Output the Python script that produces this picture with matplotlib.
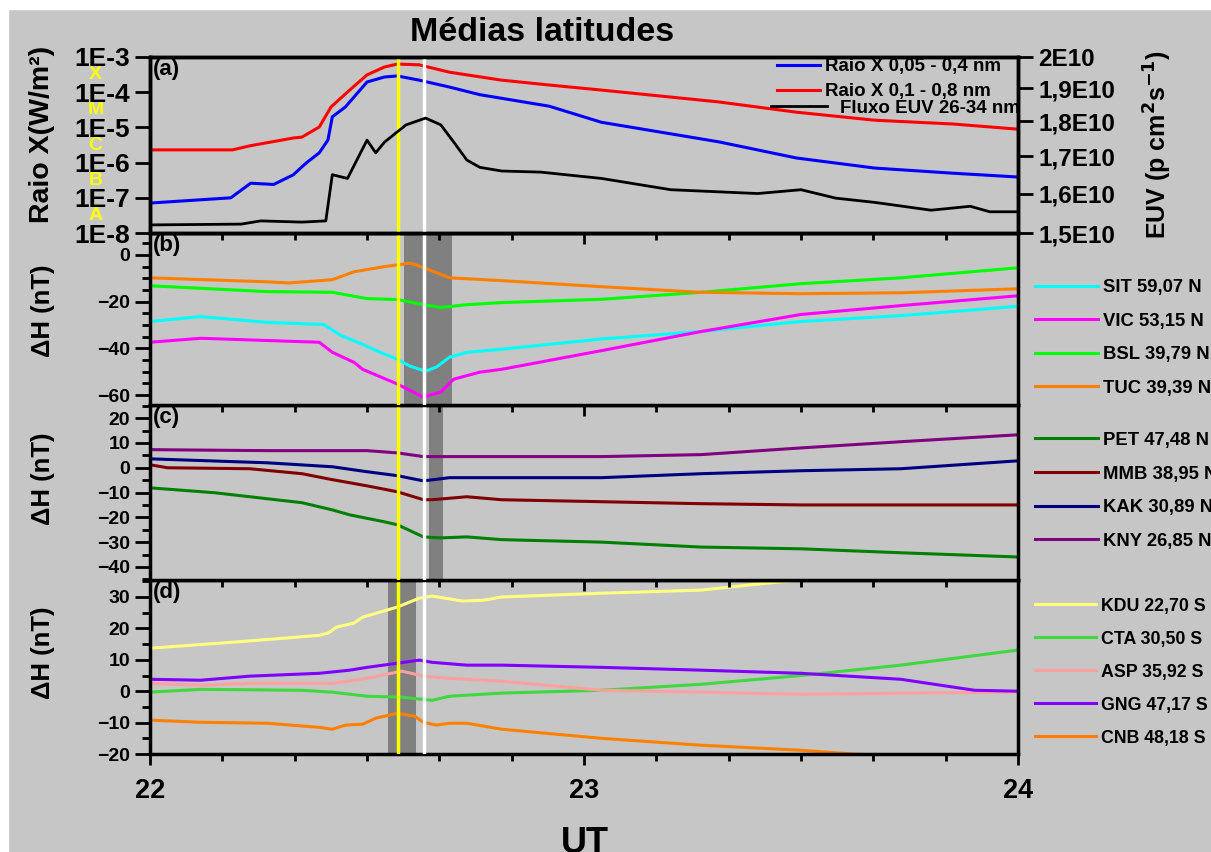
import matplotlib
matplotlib.use('Agg')
import matplotlib.pyplot as plt
from matplotlib.ticker import FixedLocator, MultipleLocator, NullLocator, FixedFormatter

plt.rcParams['font.family'] = ['Liberation Sans', 'DejaVu Sans']
plt.rcParams['font.weight'] = 'bold'

BG = '#c6c6c6'

# ---- panel (a): X-ray and EUV flux ----
t_red = [22.0, 22.19, 22.23, 22.33, 22.35, 22.39, 22.417, 22.46, 22.50, 22.54, 22.57,
         22.62, 22.69, 22.81, 22.92, 23.04, 23.31, 23.49, 23.67, 23.85, 24.0]
xr_long = [2.3e-6, 2.3e-6, 3.0e-6, 5.0e-6, 5.3e-6, 1.03e-5, 3.8e-5, 1.15e-4, 3.1e-4, 5.2e-4, 6.3e-4,
           6.0e-4, 3.7e-4, 2.2e-4, 1.6e-4, 1.15e-4, 5.3e-5, 2.7e-5, 1.6e-5, 1.25e-5, 8.9e-6]

t_blue = [22.0, 22.186, 22.232, 22.285, 22.33, 22.36, 22.39, 22.41, 22.42, 22.45, 22.47,
          22.50, 22.54, 22.57, 22.62, 22.69, 22.76, 22.92, 23.04, 23.31, 23.49, 23.67, 23.85, 24.0]
xr_short = [7.1e-8, 1.0e-7, 2.6e-7, 2.4e-7, 4.5e-7, 9.8e-7, 1.9e-6, 4.4e-6, 2.0e-5, 3.8e-5, 7.3e-5,
            1.95e-4, 2.7e-4, 2.9e-4, 2.2e-4, 1.4e-4, 8.5e-5, 4.0e-5, 1.4e-5, 3.9e-6, 1.35e-6, 7.0e-7, 5.0e-7, 3.9e-7]

t_euv = [22.0, 22.21, 22.255, 22.35, 22.405, 22.42, 22.455, 22.50, 22.52, 22.54, 22.57, 22.59,
         22.635, 22.67, 22.70, 22.73, 22.76, 22.81, 22.90, 23.04, 23.2, 23.4, 23.5, 23.58,
         23.67, 23.8, 23.89, 23.935, 24.0]
euv = [1.52e10, 1.522e10, 1.53e10, 1.527e10, 1.53e10, 1.65e10, 1.64e10, 1.746e10, 1.71e10, 1.74e10,
       1.77e10, 1.79e10, 1.81e10, 1.79e10, 1.74e10, 1.69e10, 1.67e10, 1.66e10, 1.657e10, 1.64e10,
       1.61e10, 1.60e10, 1.61e10, 1.588e10, 1.577e10, 1.557e10, 1.567e10, 1.553e10, 1.553e10]

# ---- panel (b) ----
t_tuc = [22.0, 22.27, 22.32, 22.42, 22.47, 22.54, 22.60, 22.62, 22.69, 22.81, 23.04, 23.27, 23.50, 23.73, 24.0]
tuc = [-9.8, -11.5, -12.0, -10.6, -7.2, -5.0, -3.5, -4.7, -9.8, -11.0, -13.6, -16.0, -16.6, -16.2, -14.5]
t_bsl = [22.0, 22.27, 22.42, 22.50, 22.57, 22.63, 22.67, 22.73, 22.81, 23.04, 23.27, 23.50, 23.73, 24.0]
bsl = [-13.2, -15.7, -16.0, -18.7, -19.1, -21.3, -22.5, -21.3, -20.4, -19.0, -16.0, -12.3, -9.8, -5.5]
t_sit = [22.0, 22.117, 22.27, 22.40, 22.44, 22.49, 22.53, 22.57, 22.60, 22.635, 22.66, 22.69, 22.73,
         22.81, 23.04, 23.27, 23.50, 23.73, 24.0]
sit = [-28.5, -26.4, -28.9, -29.8, -34.5, -38.3, -41.7, -44.7, -47.7, -49.8, -48.0, -43.8, -41.7,
       -40.4, -36.0, -32.8, -28.5, -26.0, -22.0]
t_vic = [22.0, 22.117, 22.39, 22.42, 22.47, 22.49, 22.57, 22.63, 22.67, 22.70, 22.76, 22.81,
         23.04, 23.27, 23.50, 23.73, 24.0]
vic = [-37.4, -35.7, -37.4, -41.7, -46.0, -49.0, -55.3, -60.9, -58.7, -53.2, -50.2, -49.0,
       -41.0, -32.8, -25.5, -21.7, -17.5]

# ---- panel (c) ----
t_kny = [22.0, 22.27, 22.50, 22.57, 22.63, 22.81, 23.04, 23.27, 23.50, 23.73, 24.0]
kny = [7.3, 6.9, 6.9, 6.0, 4.5, 4.5, 4.5, 5.3, 8.0, 10.5, 13.3]
t_kak = [22.0, 22.27, 22.42, 22.50, 22.57, 22.63, 22.69, 22.81, 23.04, 23.27, 23.50, 23.73, 24.0]
kak = [3.6, 2.0, 0.4, -1.6, -3.2, -5.3, -4.0, -4.0, -4.0, -2.4, -1.2, -0.4, 2.8]
t_mmb = [22.0, 22.04, 22.23, 22.35, 22.42, 22.50, 22.57, 22.63, 22.65, 22.73, 22.81, 23.04, 23.27,
         23.50, 23.73, 24.0]
mmb = [1.2, 0.0, -0.4, -2.4, -4.8, -7.3, -9.7, -12.9, -12.9, -11.7, -12.9, -13.7, -14.5, -15.0,
       -15.0, -15.0]
t_pet = [22.0, 22.15, 22.19, 22.35, 22.42, 22.46, 22.54, 22.57, 22.63, 22.67, 22.73, 22.81,
         23.04, 23.27, 23.50, 23.73, 24.0]
pet = [-8.1, -10.1, -10.9, -14.1, -17.0, -19.0, -21.8, -23.0, -27.9, -28.3, -27.9, -29.0,
       -30.0, -32.0, -32.7, -34.3, -36.0]

# ---- panel (d) ----
t_kdu = [22.0, 22.19, 22.31, 22.39, 22.41, 22.43, 22.47, 22.49, 22.52, 22.57, 22.62, 22.65,
         22.72, 22.77, 22.81, 23.04, 23.27, 23.38, 23.45, 23.7, 24.0]
kdu = [13.7, 15.6, 16.9, 17.8, 18.5, 20.4, 21.7, 23.6, 24.8, 26.8, 29.6, 30.3, 28.7, 29.0, 30.0,
       31.2, 32.2, 33.8, 34.8, 37.0, 39.0]
t_cta = [22.0, 22.117, 22.35, 22.42, 22.50, 22.58, 22.65, 22.69, 22.81, 23.04, 23.27, 23.50, 23.73, 24.0]
cta = [-0.3, 0.6, 0.3, -0.3, -1.6, -1.9, -2.9, -1.6, -0.6, 0.3, 2.2, 5.0, 8.3, 13.1]
t_asp = [22.0, 22.117, 22.23, 22.42, 22.50, 22.58, 22.63, 22.69, 22.81, 23.04, 23.27, 23.50, 23.73, 24.0]
asp = [2.5, 1.9, 2.5, 2.5, 4.1, 6.4, 4.8, 4.1, 3.2, 0.3, -0.3, -1.0, -0.6, -0.3]
t_gng = [22.0, 22.117, 22.23, 22.39, 22.46, 22.50, 22.57, 22.62, 22.65, 22.73, 22.81, 23.04,
         23.27, 23.50, 23.73, 23.9, 24.0]
gng = [3.8, 3.5, 4.8, 5.7, 6.7, 7.6, 8.9, 9.9, 9.2, 8.3, 8.3, 7.6, 6.7, 5.7, 3.8, 0.3, 0.0]
t_cnb = [22.0, 22.117, 22.27, 22.39, 22.42, 22.45, 22.49, 22.52, 22.57, 22.61, 22.63, 22.66,
         22.69, 22.73, 22.81, 23.04, 23.27, 23.50, 23.62, 24.0]
cnb = [-9.2, -9.9, -10.2, -11.5, -12.1, -10.8, -10.5, -8.6, -7.0, -8.0, -9.9, -10.8, -10.2,
       -10.2, -12.1, -15.0, -17.2, -18.8, -20.0, -22.0]

t_yellow = 22.571
t_white = 22.631
bands = [None, (22.585, 22.695), (22.642, 22.674), (22.548, 22.614)]

fig = plt.figure(figsize=(12.11, 8.52), dpi=100, facecolor=BG)
L, R = 0.1239, 0.8406
edges = [0.9331, 0.7265, 0.5246, 0.3192, 0.115]
axes = []
for i in range(4):
    ax = fig.add_axes([L, edges[i + 1], R - L, edges[i] - edges[i + 1]],
                      sharex=axes[0] if axes else None)
    ax.set_zorder(10 - 2 * i)  # upper panel's bottom ticks drawn over the next panel
    ax.set_facecolor(BG)
    for s in ax.spines.values():
        s.set_linewidth(2.5)
    ax.tick_params(axis='y', which='major', direction='out', length=11, width=2, labelsize=14)
    ax.tick_params(axis='y', which='minor', direction='out', length=5.5, width=2)
    ax.tick_params(axis='x', which='major', direction='out', length=8, width=2)
    ax.tick_params(axis='x', which='minor', direction='out', length=5, width=2)
    axes.append(ax)

axa, axb, axc, axd = axes

# panel a
axa.semilogy(t_blue, xr_short, color='#0000ff', lw=2.2, label='Raio X 0,05 - 0,4 nm')
axa.semilogy(t_red, xr_long, color='#ff0000', lw=2.2, label='Raio X 0,1 - 0,8 nm')
axa.set_ylim(1e-8, 1e-3)
axa.yaxis.set_major_locator(FixedLocator([1e-8, 1e-7, 1e-6, 1e-5, 1e-4, 1e-3]))
axa.yaxis.set_major_formatter(FixedFormatter(['1E-8', '1E-7', '1E-6', '1E-5', '1E-4', '1E-3']))
axa.yaxis.set_minor_locator(NullLocator())
axa.tick_params(axis='y', labelsize=19)
axa.set_ylabel('Raio X(W/m²)', fontsize=20.5, fontweight='bold')
for lab, v in zip(['A', 'B', 'C', 'M', 'X'], [10**-7.5, 10**-6.5, 10**-5.5, 10**-4.5, 10**-3.5]):
    axa.text(-0.063, v, lab, color='#ffff00', fontsize=14, fontweight='bold',
             transform=axa.get_yaxis_transform(), ha='center', va='center', zorder=0)

axr = axa.twinx()
axr.set_zorder(axa.get_zorder() + 1)
axr.semilogy(t_euv, euv, color='black', lw=2, label='Fluxo EUV 26-34 nm')
axr.set_ylim(1.5e10, 2e10)
axr.yaxis.set_major_locator(FixedLocator([1.5e10, 1.6e10, 1.7e10, 1.8e10, 1.9e10, 2e10]))
axr.yaxis.set_major_formatter(FixedFormatter(['1,5E10', '1,6E10', '1,7E10', '1,8E10', '1,9E10', '2E10']))
axr.yaxis.set_minor_locator(NullLocator())
axr.tick_params(axis='y', which='major', direction='out', length=11, width=2, labelsize=17.5)
for s in axr.spines.values():
    s.set_linewidth(2.5)
axr.set_ylabel('EUV (p cm$^{\\mathbf{2}}$s$^{\\mathbf{-1}}$)', fontsize=18, fontweight='bold')
axr.yaxis.set_label_coords(1.143, 0.5)

axa.legend(loc='upper left', bbox_to_anchor=(777 / 1211, 1 - 58 / 852),
           bbox_transform=fig.transFigure, frameon=False, borderpad=0, borderaxespad=0,
           prop={'size': 13.5, 'weight': 'bold'}, handlelength=2.3, labelspacing=0.42,
           handletextpad=0.25)
axr.legend(loc='center left', bbox_to_anchor=(771 / 1211, 1 - 108 / 852),
           bbox_transform=fig.transFigure, frameon=False, borderpad=0, borderaxespad=0,
           prop={'size': 13.5, 'weight': 'bold'}, handlelength=3.0, handletextpad=0.7)

# panel b
axb.plot(t_sit, sit, color='#00ffff', lw=2.2, label='SIT 59,07 N')
axb.plot(t_vic, vic, color='#ff00ff', lw=2.2, label='VIC 53,15 N')
axb.plot(t_bsl, bsl, color='#00ff00', lw=2.2, label='BSL 39,79 N')
axb.plot(t_tuc, tuc, color='#ff8000', lw=2.2, label='TUC 39,39 N')
axb.set_ylim(-64.3, 9.4)
axb.yaxis.set_major_locator(MultipleLocator(20))
axb.yaxis.set_minor_locator(MultipleLocator(5))

# panel c
axc.plot(t_pet, pet, color='#008000', lw=2.2, label='PET 47,48 N')
axc.plot(t_mmb, mmb, color='#800000', lw=2.2, label='MMB 38,95 N')
axc.plot(t_kak, kak, color='#000080', lw=2.2, label='KAK 30,89 N')
axc.plot(t_kny, kny, color='#800080', lw=2.2, label='KNY 26,85 N')
axc.set_ylim(-45.3, 25.3)
axc.yaxis.set_major_locator(MultipleLocator(10))
axc.yaxis.set_minor_locator(MultipleLocator(5))

# panel d
axd.plot(t_kdu, kdu, color='#ffff80', lw=2.2, label='KDU 22,70 S')
axd.plot(t_cta, cta, color='#40d840', lw=2.2, label='CTA 30,50 S')
axd.plot(t_asp, asp, color='#ffa0a0', lw=2.2, label='ASP 35,92 S')
axd.plot(t_gng, gng, color='#8000ff', lw=2.2, label='GNG 47,17 S')
axd.plot(t_cnb, cnb, color='#ff8000', lw=2.2, label='CNB 48,18 S')
axd.set_ylim(-20, 35.4)
axd.yaxis.set_major_locator(MultipleLocator(10))
axd.yaxis.set_minor_locator(MultipleLocator(5))

leg_tops = [None, 0.6725, 0.4930, 0.2985]
leg_left = [None, 0.8547, 0.8547, 0.8550]
leg_size = [None, 13.3, 13.3, 12.8]
label_y = [0.56, 0.55, 0.58, 0.58]
for i, ax in enumerate(axes):
    if bands[i] is not None:
        ax.axvspan(bands[i][0], bands[i][1], color='#808080', zorder=0.5, lw=0)
    ax.axvline(t_yellow, color='#ffff00', lw=2.5, zorder=3)
    ax.axvline(t_white, color='white', lw=2.5, zorder=3)
    ax.text(0.003, 0.99, '(' + 'abcd'[i] + ')', transform=ax.transAxes, fontsize=16,
            fontweight='bold', va='top', ha='left')
    if i > 0:
        ax.set_ylabel('ΔH (nT)', fontsize=18.5, fontweight='bold')
        ax.legend(loc='upper left', bbox_to_anchor=(leg_left[i], leg_tops[i]),
                  bbox_transform=fig.transFigure, frameon=False, borderpad=0, borderaxespad=0,
                  prop={'size': leg_size[i], 'weight': 'bold'}, handlelength=3.4,
                  labelspacing=0.9, handletextpad=0.3)
    if i < 3:
        ax.tick_params(axis='x', labelbottom=False)
    ax.yaxis.set_label_coords(-0.109, label_y[i])

axd.set_xlim(22, 24)
axd.xaxis.set_major_locator(MultipleLocator(1))
axd.xaxis.set_minor_locator(MultipleLocator(1 / 6))
axd.tick_params(axis='x', which='major', labelsize=19.5, pad=9)

fig.text(0.448, 0.9624, 'Médias latitudes', fontsize=24.5, fontweight='bold', ha='center', va='center')
fig.text(0.483, 0.031, 'UT', fontsize=26, fontweight='bold', ha='center', va='top')
fig.patches.append(plt.Rectangle((0, 0), 0.0066, 1, transform=fig.transFigure, color='white', zorder=-1))
fig.patches.append(plt.Rectangle((0, 0.9894), 1, 0.0106, transform=fig.transFigure, color='white', zorder=-1))

fig.savefig('out.png', dpi=100, facecolor=BG)
